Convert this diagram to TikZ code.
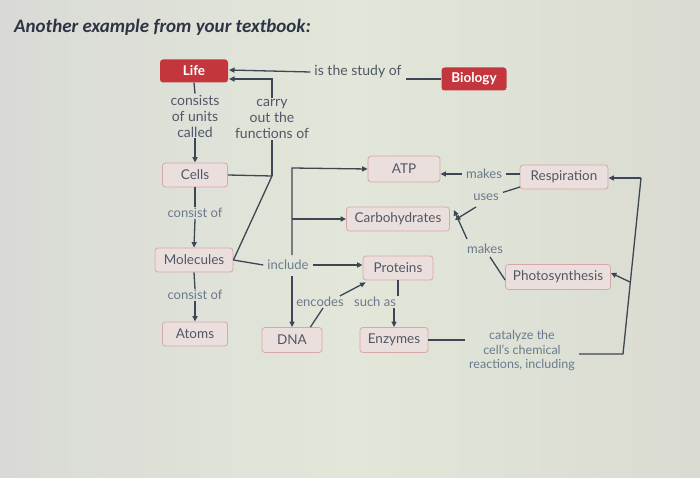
\documentclass[tikz,border=0pt]{standalone}
\usepackage{fontspec}
\setmainfont{Lato}
\newfontfamily\titlefont{Carlito}
\usetikzlibrary{arrows.meta}
\definecolor{boxedge}{HTML}{D8A8A8}
\definecolor{boxfill}{HTML}{EBDFDD}
\definecolor{boxtext}{HTML}{4F5866}
\definecolor{lbltext}{HTML}{6A7A8C}
\definecolor{linec}{HTML}{3C4654}
\definecolor{lifered}{HTML}{C4363E}
\definecolor{titlec}{HTML}{2E3444}
\definecolor{bgl}{HTML}{D9DAD6}
\definecolor{bgm}{HTML}{E2E7D9}
\definecolor{bgr}{HTML}{DADBD2}
\begin{document}
\begin{tikzpicture}[x=1pt,y=-1pt,
  box/.style={draw=boxedge, fill=boxfill, rounded corners=3pt, line width=0.8pt, text=boxtext, inner sep=0pt, minimum height=24pt, font=\fontsize{13.5}{14}\selectfont},
  redbox/.style={fill=lifered, rounded corners=3pt, text=white, font=\bfseries\fontsize{13.5}{14}\selectfont, minimum height=23pt, inner sep=0pt},
  lbl/.style={text=lbltext, font=\fontsize{13}{15}\selectfont, align=center, inner xsep=4pt, inner ysep=1pt},
  dlbl/.style={text=boxtext, font=\fontsize{14}{16}\selectfont, align=center, inner xsep=4pt, inner ysep=1pt},
  ln/.style={draw=linec, line width=1.3pt},
  arr/.style={ln, -{Triangle[length=5.5pt,width=5pt]}}]
\shade[left color=bgl, right color=bgr, middle color=bgm, shading angle=90] (0,0) rectangle (700,478);
\useasboundingbox (0,0) rectangle (700,478);
% title
\node[anchor=west, text=titlec, font=\titlefont\bfseries\itshape\fontsize{19}{22}\selectfont, inner sep=0pt] (title) at (14,27) {Another example from your textbook:};
% red nodes
\node[redbox, minimum width=68pt] (life) at (194,71) {Life};
\node[redbox, minimum width=65pt] (bio) at (474,79) {Biology};
% boxes
\node[box, minimum width=65pt] (cells) at (195,175) {Cells};
\node[box, minimum width=78pt] (mol) at (194,260) {Molecules};
\node[box, minimum width=65pt] (atoms) at (195,334) {Atoms};
\node[box, minimum width=72pt, minimum height=26pt] (atp) at (404,169) {ATP};
\node[box, minimum width=88pt] (resp) at (564,177) {Respiration};
\node[box, minimum width=103pt] (carb) at (398,219) {Carbohydrates};
\node[box, minimum width=105pt, minimum height=25pt] (photo) at (558,277) {Photosynthesis};
\node[box, minimum width=70pt] (prot) at (398,268) {Proteins};
\node[box, minimum width=60pt, minimum height=25pt] (dna) at (292,340) {DNA};
\node[box, minimum width=68pt, minimum height=25pt] (enz) at (394,340) {Enzymes};
% labels
\node[dlbl] (study) at (358,72) {is the study of};
\node[dlbl] (cons) at (195,116) {consists\\of units\\called};
\node[dlbl] (carry) at (272,119) {carry\\out the\\functions of};
\node[lbl] (co1) at (195,213) {consist of};
\node[lbl] (co2) at (195,295) {consist of};
\node[lbl] (incl) at (288,265) {include};
\node[lbl] (mk1) at (484,174) {makes};
\node[lbl] (uses) at (486,197) {uses};
\node[lbl] (mk2) at (485,249) {makes};
\node[lbl] (enc) at (320,302) {encodes};
\node[lbl] (such) at (375,302) {such as};
\node[lbl, font=\fontsize{12.5}{14.5}\selectfont] (cat) at (522,351) {catalyze the\\cell's chemical\\reactions, including};
% coordinates
\coordinate (lifeA) at (229,70);
\coordinate (lifeB) at (229,79);
\coordinate (j1) at (272,176);
\coordinate (ttop) at (292,168);
\coordinate (tbot) at (292,255);
\coordinate (dtop) at (292,276);
\coordinate (rt) at (641,178);
\coordinate (rb) at (623,354);
\coordinate (rp) at (630,282);
\coordinate (usesT) at (476,207);
\coordinate (mk2T) at (467,239);
\coordinate (mk2B) at (490,257);
\coordinate (respL) at (520,187);
% connectors top
\draw[ln] (bio.west) -- (study.east |- bio.west);
\draw[arr] (study.west) -- (lifeA);
\draw[arr] (carry.north) |- (lifeB);
\draw[ln] (life.south) -- (cons.north);
\draw[arr] (cons.south) -- (cells.north);
\draw[ln] (carry.south) -- (j1);
\draw[ln] (cells.east) -- (j1);
\draw[ln] (j1) -- (mol.east);
% left column
\draw[ln] (cells.south) -- (co1.north);
\draw[arr] (co1.south) -- (mol.north);
\draw[ln] (mol.south) -- (co2.north);
\draw[arr] (co2.south) -- (atoms.north);
% include / trunk
\draw[ln] (mol.east) -- (incl.west);
\draw[arr] (incl.east) -- (prot.west |- incl.east);
\draw[arr] (tbot) -- (ttop) -- (atp.west);
\draw[arr] (tbot |- carb.west) -- (carb.west);
\draw[arr] (dtop) -- (dna.north);
% DNA / proteins / enzymes
\draw[ln] ([xshift=-12pt]dna.north east) -- ([xshift=3pt]enc.south);
\draw[arr] ([xshift=-8pt]enc.north east) -- ([xshift=3pt,yshift=-2pt]prot.south west);
\draw[ln] (prot.south) -- (such.north -| prot.south);
\draw[arr] (such.south -| enz.north) -- (enz.north);
% ATP / respiration / photosynthesis
\draw[arr] (mk1.west) -- (atp.east |- mk1.west);
\draw[ln] (mk1.east) -- (resp.west |- mk1.east);
\draw[ln] (respL) -- (uses.north east);
\draw[arr] (usesT) -- ([xshift=5pt,yshift=-1pt]carb.east);
\draw[arr] (mk2T) -- ([xshift=4pt,yshift=9pt]carb.east);
\draw[ln] (mk2B) -- ([yshift=-3pt]photo.west);
% right loop
\draw[ln] (enz.east) -- (cat.west |- enz.east);
\draw[ln] (cat.east |- rb) -- (rb) -- (rt);
\draw[arr] (rt) -- (resp.east |- rt);
\draw[arr] (rp) -- ([yshift=4pt]photo.east);
\end{tikzpicture}
\end{document}
